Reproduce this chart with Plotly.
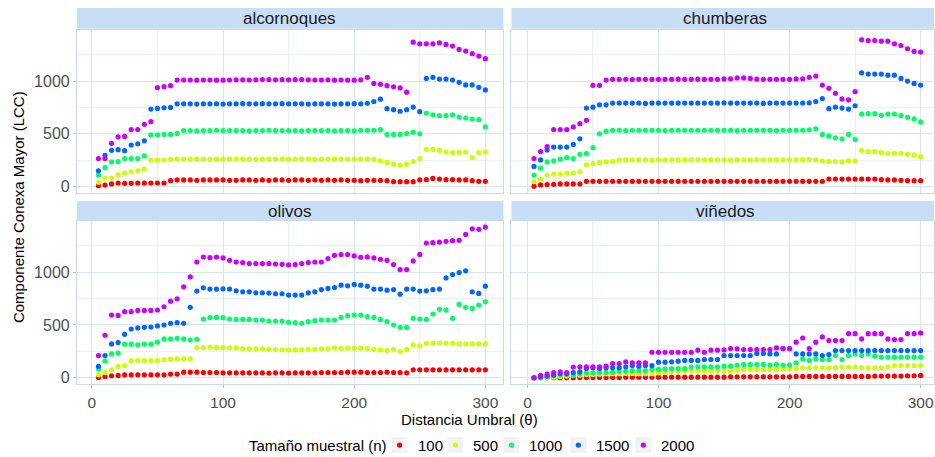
import plotly.graph_objects as go

# ---------------- data ----------------
distancia = [5, 10, 15, 20, 25, 30, 35, 40, 45, 50,
             55, 60, 65, 70, 75, 80, 85, 90, 95, 100,
             105, 110, 115, 120, 125, 130, 135, 140, 145, 150,
             155, 160, 165, 170, 175, 180, 185, 190, 195, 200,
             205, 210, 215, 220, 225, 230, 235, 240, 245, 250,
             255, 260, 265, 270, 275, 280, 285, 290, 295, 300]

tamanos = ["100", "500", "1000", "1500", "2000"]
colores = ["#FF0000", "#CCFF00", "#00FF66", "#0066FF", "#CC00FF"]
paneles = ["alcornoques", "chumberas", "olivos", "viñedos"]

# alcornoques
alc_100 = [9, 15, 25, 34, 31, 31, 34, 34, 34, 34,
           34, 56, 63, 63, 63, 60, 63, 63, 63, 63,
           60, 60, 63, 63, 60, 63, 60, 63, 63, 60,
           63, 63, 60, 63, 60, 63, 60, 63, 60, 60,
           56, 60, 60, 60, 56, 47, 47, 47, 47, 63,
           66, 78, 72, 66, 66, 63, 63, 56, 50, 50]
alc_500 = [41, 79, 81, 112, 128, 141, 150, 166, 250, 250,
           252, 258, 260, 260, 260, 260, 260, 258, 260, 260,
           260, 260, 260, 260, 258, 260, 260, 260, 260, 260,
           260, 260, 260, 258, 260, 260, 260, 260, 260, 260,
           260, 260, 258, 245, 229, 213, 204, 213, 238, 266,
           353, 353, 344, 328, 322, 322, 328, 275, 322, 328]
alc_1000 = [110, 182, 234, 237, 266, 266, 266, 291, 491, 491,
            494, 494, 504, 531, 531, 528, 531, 531, 534, 531,
            531, 531, 531, 528, 531, 531, 534, 531, 531, 531,
            531, 528, 531, 531, 531, 531, 528, 531, 531, 528,
            534, 534, 534, 541, 494, 494, 494, 503, 516, 500,
            697, 681, 672, 672, 681, 659, 650, 640, 634, 565]
alc_1500 = [150, 297, 344, 350, 340, 394, 406, 434, 735, 741,
            747, 750, 784, 784, 784, 782, 784, 784, 784, 782,
            784, 784, 786, 784, 784, 786, 784, 784, 786, 784,
            784, 784, 782, 784, 784, 784, 782, 784, 784, 786,
            784, 790, 806, 828, 738, 729, 714, 729, 754, 710,
            1025, 1035, 1019, 1019, 1010, 988, 963, 963, 941, 916]
alc_2000 = [266, 266, 410, 472, 475, 541, 541, 590, 615, 937,
            947, 956, 1009, 1010, 1010, 1008, 1010, 1010, 1008, 1008,
            1010, 1012, 1012, 1010, 1012, 1015, 1014, 1012, 1013, 1012,
            1013, 1014, 1012, 1010, 1010, 1012, 1008, 1010, 1008, 1008,
            1012, 1035, 978, 970, 956, 945, 935, 895, 1368, 1353,
            1353, 1353, 1362, 1347, 1331, 1300, 1284, 1259, 1237, 1212]

# chumberas
chu_100 = [4, 16, 19, 22, 25, 25, 25, 25, 50, 50,
           50, 50, 50, 50, 50, 50, 50, 50, 50, 50,
           50, 50, 50, 50, 50, 50, 50, 50, 50, 50,
           50, 50, 50, 50, 50, 50, 50, 50, 50, 50,
           50, 50, 50, 50, 50, 72, 72, 72, 72, 72,
           72, 72, 72, 66, 63, 63, 60, 56, 56, 56]
chu_500 = [47, 72, 110, 119, 119, 128, 128, 141, 206, 219,
           229, 234, 240, 250, 253, 253, 253, 253, 250, 253,
           253, 253, 253, 253, 253, 253, 253, 253, 253, 253,
           250, 253, 253, 253, 253, 253, 253, 253, 253, 253,
           253, 253, 256, 253, 244, 238, 238, 234, 244, 244,
           344, 331, 331, 322, 316, 316, 316, 306, 300, 284]
chu_1000 = [110, 175, 234, 244, 260, 275, 266, 306, 313, 369,
            500, 525, 534, 534, 531, 534, 534, 534, 534, 534,
            531, 534, 534, 534, 534, 534, 534, 534, 534, 534,
            534, 531, 534, 534, 534, 534, 534, 531, 534, 534,
            534, 534, 538, 547, 494, 478, 463, 453, 494, 447,
            688, 691, 691, 675, 688, 688, 672, 656, 641, 613]
chu_1500 = [191, 253, 347, 375, 375, 375, 400, 453, 744, 753,
            775, 775, 791, 791, 791, 791, 791, 788, 791, 791,
            791, 791, 791, 791, 791, 791, 791, 791, 791, 794,
            791, 791, 791, 791, 791, 788, 791, 791, 791, 791,
            791, 791, 794, 806, 834, 738, 753, 744, 735, 766,
            1078, 1066, 1066, 1066, 1056, 1056, 1025, 1000, 978, 962]
chu_2000 = [266, 332, 379, 541, 541, 541, 565, 596, 628, 960,
            960, 1009, 1016, 1016, 1016, 1014, 1016, 1016, 1016, 1016,
            1016, 1016, 1018, 1016, 1016, 1018, 1016, 1016, 1016, 1020,
            1022, 1030, 1030, 1025, 1018, 1016, 1016, 1016, 1016, 1016,
            1020, 1022, 1035, 1047, 962, 931, 884, 831, 822, 900,
            1391, 1384, 1384, 1378, 1378, 1353, 1337, 1306, 1281, 1275]

# olivos
oli_100 = [3, 13, 19, 22, 28, 28, 28, 28, 28, 28,
           28, 35, 35, 53, 53, 53, 50, 50, 50, 47,
           47, 47, 47, 47, 47, 47, 44, 47, 47, 44,
           47, 47, 47, 47, 50, 50, 50, 50, 53, 53,
           53, 50, 50, 50, 53, 50, 50, 47, 75, 75,
           75, 75, 75, 75, 75, 75, 75, 75, 75, 75]
oli_500 = [28, 50, 75, 107, 116, 160, 163, 163, 163, 163,
           170, 176, 179, 179, 179, 286, 286, 289, 286, 286,
           283, 283, 274, 274, 274, 274, 270, 267, 264, 264,
           264, 264, 270, 270, 274, 274, 283, 277, 280, 280,
           280, 277, 270, 264, 258, 270, 248, 270, 311, 302,
           327, 327, 327, 327, 327, 321, 321, 321, 321, 321]
oli_1000 = [82, 160, 226, 233, 318, 318, 312, 318, 318, 337,
            368, 368, 374, 368, 358, 365, 557, 569, 572, 569,
            557, 553, 553, 553, 547, 547, 538, 538, 538, 525,
            522, 516, 531, 541, 547, 547, 547, 572, 588, 594,
            594, 579, 572, 553, 531, 500, 478, 478, 563, 557,
            553, 604, 648, 641, 563, 695, 667, 657, 689, 720]
oli_1500 = [107, 211, 321, 333, 412, 462, 472, 478, 481, 491,
            500, 516, 522, 516, 667, 821, 852, 840, 840, 843,
            840, 824, 814, 814, 805, 805, 802, 796, 796, 783,
            783, 783, 805, 814, 836, 846, 855, 877, 871, 884,
            877, 868, 840, 840, 830, 836, 792, 840, 840, 821,
            824, 836, 840, 946, 978, 997, 1013, 814, 799, 868]
oli_2000 = [211, 403, 594, 591, 626, 626, 638, 638, 638, 642,
            673, 726, 748, 862, 956, 1097, 1144, 1138, 1144, 1135,
            1113, 1097, 1091, 1082, 1082, 1082, 1082, 1078, 1075, 1069,
            1072, 1082, 1091, 1097, 1097, 1129, 1160, 1167, 1167, 1154,
            1142, 1145, 1135, 1123, 1113, 1072, 1025, 1025, 1107, 1169,
            1277, 1280, 1286, 1293, 1299, 1302, 1358, 1412, 1406, 1428]

# viñedos
vin_100 = [0, 0, 0, 0, 0, 0, 0, 3, 3, 3,
           3, 3, 3, 3, 6, 6, 6, 6, 6, 6,
           6, 6, 6, 6, 6, 6, 6, 6, 6, 6,
           9, 9, 9, 9, 9, 9, 9, 9, 9, 9,
           13, 13, 13, 13, 13, 13, 13, 13, 13, 13,
           13, 13, 16, 16, 16, 16, 16, 19, 19, 22]
vin_500 = [0, 0, 3, 6, 13, 16, 22, 25, 31, 31,
           34, 38, 38, 38, 41, 41, 38, 38, 38, 47,
           50, 56, 63, 69, 63, 63, 63, 63, 63, 63,
           63, 72, 79, 79, 79, 79, 79, 79, 85, 88,
           88, 94, 94, 94, 94, 94, 97, 101, 101, 101,
           97, 94, 94, 94, 104, 116, 116, 116, 116, 116]
vin_1000 = [0, 5, 16, 25, 31, 31, 25, 38, 47, 47,
            53, 53, 53, 63, 63, 69, 69, 69, 79, 79,
            85, 88, 88, 88, 101, 104, 104, 104, 104, 110,
            110, 120, 126, 126, 126, 126, 120, 126, 120, 120,
            142, 179, 164, 179, 173, 173, 211, 173, 211, 226,
            211, 226, 205, 195, 195, 195, 195, 195, 195, 195]
vin_1500 = [0, 8, 16, 25, 38, 38, 50, 56, 88, 94,
            88, 94, 94, 94, 104, 116, 110, 116, 116, 148,
            148, 151, 157, 164, 164, 164, 173, 173, 173, 211,
            211, 211, 211, 211, 230, 230, 226, 226, 277, 277,
            226, 226, 226, 226, 211, 220, 258, 258, 258, 258,
            258, 258, 258, 258, 258, 258, 258, 258, 258, 258]
vin_2000 = [0, 22, 35, 50, 56, 50, 101, 104, 104, 104,
            104, 110, 135, 135, 151, 142, 142, 142, 242, 242,
            242, 242, 242, 242, 242, 261, 242, 261, 261, 264,
            277, 274, 267, 267, 267, 267, 267, 283, 277, 277,
            337, 377, 277, 337, 387, 352, 352, 352, 418, 418,
            368, 418, 418, 418, 368, 362, 362, 418, 418, 425]

series = {
    "alcornoques": [alc_100, alc_500, alc_1000, alc_1500, alc_2000],
    "chumberas": [chu_100, chu_500, chu_1000, chu_1500, chu_2000],
    "olivos": [oli_100, oli_500, oli_1000, oli_1500, oli_2000],
    "viñedos": [vin_100, vin_500, vin_1000, vin_1500, vin_2000],
}

# ---------------- layout helpers ----------------
W, H = 935, 457
FONT = "Liberation Sans, Arial, Helvetica, sans-serif"
GRID = "#d5e5f5"
MINOR = "#e9f1fa"
BORDER = "#c6dbef"
STRIP = "#c8def6"
KEYBG = "#f2f2f2"

def px_x(p):
    return p / W

def px_y(p):
    return 1 - p / H

# panel pixel boxes: (left, right, top, bottom)
boxes = {
    "alcornoques": (77, 504, 30, 194),
    "chumberas": (512, 935, 30, 194),
    "olivos": (77, 504, 222, 386),
    "viñedos": (512, 935, 222, 386),
}
strips = {
    "alcornoques": (8, 29),
    "chumberas": (8, 29),
    "olivos": (202, 222),
    "viñedos": (202, 222),
}
strip_text_x = {"alcornoques": 290, "chumberas": 726, "olivos": 290, "viñedos": 726}
xranges = {
    "alcornoques": [-11.4, 313.8],
    "chumberas": [-12.2, 310.2],
    "olivos": [-11.4, 313.8],
    "viñedos": [-12.2, 310.2],
}
yrange = [-62, 1485]

fig = go.Figure()
layout = dict(
    width=W, height=H,
    margin=dict(l=0, r=0, t=0, b=0),
    paper_bgcolor="white", plot_bgcolor="white",
    font=dict(family=FONT, color="black"),
    showlegend=False,
    shapes=[], annotations=[],
)

for i, panel in enumerate(paneles):
    n = "" if i == 0 else str(i + 1)
    xa, ya = "x" + n, "y" + n
    for k, (tam, col) in enumerate(zip(tamanos, colores)):
        fig.add_trace(go.Scatter(
            x=distancia, y=series[panel][k], mode="markers",
            marker=dict(color=col, size=5.2, line=dict(width=0)),
            name=tam, legendgroup=tam,
            xaxis=xa, yaxis=ya,
        ))
    l, r, t, b = boxes[panel]
    bottom_row = panel in ("olivos", "viñedos")
    left_col = panel in ("alcornoques", "olivos")
    layout["xaxis" + n] = dict(
        domain=[px_x(l), px_x(r)], range=xranges[panel], anchor=ya,
        tick0=0, dtick=100, showgrid=True, gridcolor=GRID, gridwidth=1,
        minor=dict(tick0=0, dtick=50, showgrid=True, gridcolor=MINOR, gridwidth=0.7),
        zeroline=False, showline=True, mirror=True, linecolor=BORDER, linewidth=1,
        ticks="outside" if bottom_row else "", ticklen=3, tickcolor="#c0c0c0",
        showticklabels=bottom_row, ticklabelstandoff=1,
        tickfont=dict(size=15.5, color="#4d4d4d", family=FONT),
    )
    layout["yaxis" + n] = dict(
        domain=[px_y(b), px_y(t)], range=yrange, anchor=xa,
        tick0=0, dtick=500, showgrid=True, gridcolor=GRID, gridwidth=1,
        minor=dict(tick0=0, dtick=250, showgrid=True, gridcolor=MINOR, gridwidth=0.7),
        zeroline=False, showline=True, mirror=True, linecolor=BORDER, linewidth=1,
        ticks="outside" if left_col else "", ticklen=3, tickcolor="#c0c0c0",
        showticklabels=left_col,
        tickfont=dict(size=16, color="#4d4d4d", family=FONT),
    )
    s0, s1 = strips[panel]
    layout["shapes"].append(dict(
        type="rect", xref="paper", yref="paper",
        x0=px_x(l), x1=px_x(r), y0=px_y(s1), y1=px_y(s0),
        fillcolor=STRIP, line=dict(width=0), layer="below",
    ))
    layout["annotations"].append(dict(
        text=panel, xref="paper", yref="paper",
        x=px_x(strip_text_x[panel]), y=px_y((s0 + s1) / 2),
        xanchor="center", yanchor="middle",
        showarrow=False, font=dict(size=17, color="#1a1a1a", family=FONT),
    ))

# axis titles
layout["annotations"].append(dict(
    text="Componente Conexa Mayor (LCC)", xref="paper", yref="paper",
    x=px_x(18), y=px_y(208), textangle=-90, xanchor="center", yanchor="middle",
    showarrow=False, font=dict(size=15, color="black", family=FONT),
))
layout["annotations"].append(dict(
    text="Distancia Umbral (θ)", xref="paper", yref="paper",
    x=px_x(470), y=px_y(421), xanchor="center", yanchor="middle",
    showarrow=False, font=dict(size=15, color="black", family=FONT),
))

# legend (ggplot style: title, grey key boxes with a dot, labels)
LEG_Y = 447
layout["annotations"].append(dict(
    text="Tamaño muestral (n)", xref="paper", yref="paper",
    x=px_x(247), y=px_y(LEG_Y), xanchor="left", yanchor="middle",
    showarrow=False, font=dict(size=15, color="black", family=FONT),
))
key_x = [400, 456, 512, 579, 644]
for kx, tam, col in zip(key_x, tamanos, colores):
    layout["shapes"].append(dict(
        type="rect", xref="paper", yref="paper",
        x0=px_x(kx - 8), x1=px_x(kx + 8), y0=px_y(LEG_Y + 8), y1=px_y(LEG_Y - 8),
        fillcolor=KEYBG, line=dict(width=0),
    ))
    layout["shapes"].append(dict(
        type="circle", xref="paper", yref="paper",
        x0=px_x(kx - 2.6), x1=px_x(kx + 2.6), y0=px_y(LEG_Y + 2.6), y1=px_y(LEG_Y - 2.6),
        fillcolor=col, line=dict(width=0),
    ))
    layout["annotations"].append(dict(
        text=tam, xref="paper", yref="paper",
        x=px_x(kx + 16), y=px_y(LEG_Y), xanchor="left", yanchor="middle",
        showarrow=False, font=dict(size=15, color="black", family=FONT),
    ))

fig.update_layout(**layout)
fig.write_html("out.html")
